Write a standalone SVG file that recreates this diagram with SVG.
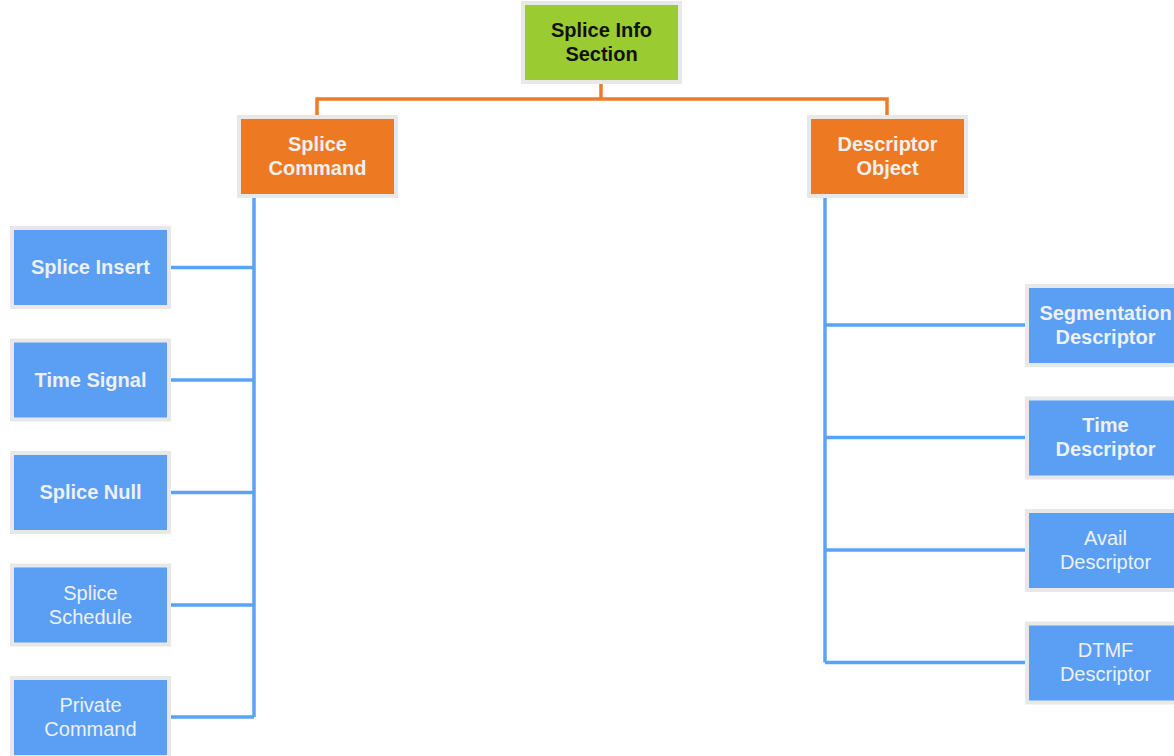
<svg xmlns="http://www.w3.org/2000/svg" width="1174" height="756" viewBox="0 0 1174 756">
<style>
.box{stroke:#e8e8e8;stroke-width:4}
.g{fill:#9acb31}
.o{fill:#ed7923}
.b{fill:#5a9ff4}
.t{font-family:"Liberation Sans",Arial,sans-serif;font-size:20px;text-anchor:middle}
.bd{font-weight:bold}
.dk{fill:#111111}
.lt{fill:#eef0f2}
.ol{stroke:#ef7b27;stroke-width:3.5;fill:none}
.bl{stroke:#5aa2f6;stroke-width:3.5;fill:none}
</style>
<g id="connectors">
<path class="ol" d="M601,83 V99 M317,117 V99 H887 V117"/>
<path class="bl" d="M254,198 V717 M171,267.5 H254 M171,380 H254 M171,492.5 H254 M171,605 H254 M171,717 H254"/>
<path class="bl" d="M825,198 V662.5 M825,325 H1025 M825,437.5 H1025 M825,550 H1025 M825,662.5 H1025"/>
</g>
<g id="splice-info-section"><rect class="box g" x="523" y="3" width="157" height="79"/><text class="t bd dk" x="601.5" y="37">Splice Info<tspan x="601.5" dy="24">Section</tspan></text></g>
<g id="splice-command"><rect class="box o" x="239" y="117" width="157" height="79"/><text class="t bd lt" x="317.5" y="151">Splice<tspan x="317.5" dy="24">Command</tspan></text></g>
<g id="descriptor-object"><rect class="box o" x="809" y="117" width="157" height="79"/><text class="t bd lt" x="887.5" y="151">Descriptor<tspan x="887.5" dy="24">Object</tspan></text></g>
<g id="splice-insert"><rect class="box b" x="12" y="228" width="157" height="79"/><text class="t bd lt" x="90.5" y="274">Splice Insert</text></g>
<g id="time-signal"><rect class="box b" x="12" y="340.5" width="157" height="79"/><text class="t bd lt" x="90.5" y="386.5">Time Signal</text></g>
<g id="splice-null"><rect class="box b" x="12" y="453" width="157" height="79"/><text class="t bd lt" x="90.5" y="499">Splice Null</text></g>
<g id="splice-schedule"><rect class="box b" x="12" y="565.5" width="157" height="79"/><text class="t lt" x="90.5" y="599.5">Splice<tspan x="90.5" dy="24">Schedule</tspan></text></g>
<g id="private-command"><rect class="box b" x="12" y="678" width="157" height="79"/><text class="t lt" x="90.5" y="712">Private<tspan x="90.5" dy="24">Command</tspan></text></g>
<g id="segmentation-descriptor"><rect class="box b" x="1027" y="286" width="157" height="79"/><text class="t bd lt" x="1105.5" y="320">Segmentation<tspan x="1105.5" dy="24">Descriptor</tspan></text></g>
<g id="time-descriptor"><rect class="box b" x="1027" y="398.5" width="157" height="79"/><text class="t bd lt" x="1105.5" y="432">Time<tspan x="1105.5" dy="24">Descriptor</tspan></text></g>
<g id="avail-descriptor"><rect class="box b" x="1027" y="511" width="157" height="79"/><text class="t lt" x="1105.5" y="545">Avail<tspan x="1105.5" dy="24">Descriptor</tspan></text></g>
<g id="dtmf-descriptor"><rect class="box b" x="1027" y="623.5" width="157" height="79"/><text class="t lt" x="1105.5" y="657">DTMF<tspan x="1105.5" dy="24">Descriptor</tspan></text></g>
</svg>
